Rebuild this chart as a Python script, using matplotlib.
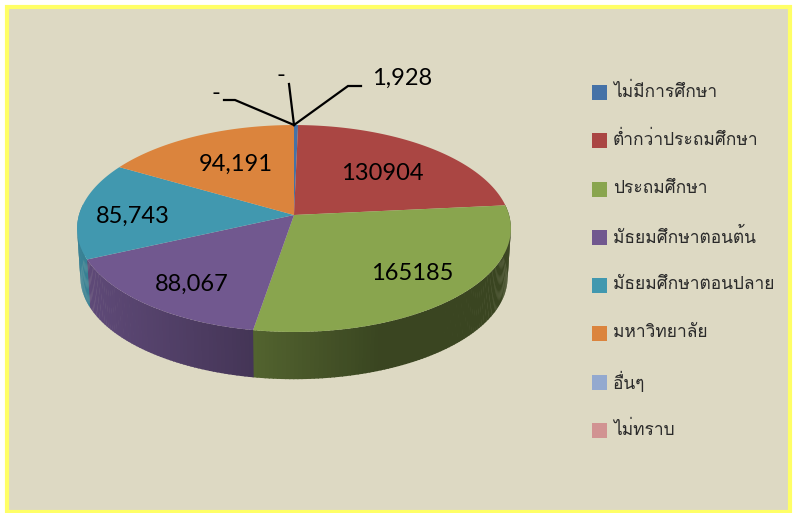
"""Thai education-level pie, drawn as a tilted disc with a shaded rim."""
import numpy as np
import matplotlib
matplotlib.use("Agg")
import matplotlib.pyplot as plt
from matplotlib.patches import Polygon, Rectangle

CATEGORIES = ["ไม่มีการศึกษา", "ต่ำกว่าประถมศึกษา", "ประถมศึกษา", "มัธยมศึกษาตอนต้น",
              "มัธยมศึกษาตอนปลาย", "มหาวิทยาลัย", "อื่นๆ", "ไม่ทราบ"]
VALUES = [1928, 130904, 165185, 88067, 85743, 94191, 0, 0]
VALUE_LABELS = ["1,928", "130904", "165185", "88,067", "85,743", "94,191", "-", "-"]
COLORS = ["#4572A7", "#AA4643", "#89A54E", "#71588F", "#4198AF", "#DB843D", "#93A9CF", "#D19392"]

THAI = ["Loma", "DejaVu Sans"]
NUM = ["Lato", "DejaVu Sans"]
BG, BORDER = "#DDD9C3", "#FFFF66"

# top face and bottom rim of the disc, in pixels of the figure
CX, CY, A, B, K = 294, 215, 215, 101.7, 0.1304
RIM_Y, RIM_S = 264, 0.985


def top(theta):
    d = 1 + K * np.cos(theta)
    return CX + A * np.sin(theta) / d, CY - B * np.cos(theta) / d


def low(theta):
    d = 1 + K * np.cos(theta)
    return CX + RIM_S * A * np.sin(theta) / d, RIM_Y - RIM_S * B * np.cos(theta) / d


def shade(color, x, lo, hi):
    # rim gets darker towards the lower right, flat after that
    f = np.clip((x - 80) / 300, 0, 1)
    return tuple(c * (hi + (lo - hi) * f) for c in matplotlib.colors.to_rgb(color))


fig = plt.figure(figsize=(7.94, 5.13), dpi=100)
fig.patch.set_facecolor("white")
ax = fig.add_axes([0, 0, 1, 1])
ax.set_xlim(0, 794)
ax.set_ylim(513, 0)
ax.axis("off")

ax.add_patch(Rectangle((6.5, 6.5), 783, 505, facecolor=BG, edgecolor=BORDER, lw=3))

fracs = np.array(VALUES) / sum(VALUES)
edges = np.concatenate([[0], np.cumsum(fracs)]) * 2 * np.pi

# rim first, only the part that faces the viewer
for i, color in enumerate(COLORS[:6]):
    t0, t1 = max(edges[i], np.pi / 2 - 0.1), min(edges[i + 1], 3 * np.pi / 2 + 0.1)
    if t1 <= t0:
        continue
    ts = np.linspace(t0, t1, max(int((t1 - t0) * 60), 2))
    for a, b in zip(ts[:-1], ts[1:]):
        seg = np.linspace(a, b + 0.005, 3)
        xt, yt = top(seg)
        xl, yl = low(seg)
        pts = np.column_stack([np.r_[xt, xl[::-1]], np.r_[yt, yl[::-1]]])
        ax.add_patch(Polygon(pts, facecolor=shade(color, xt.mean(), 0.42, 0.85),
                             edgecolor="none", zorder=2))

# top face
for i, color in enumerate(COLORS[:6]):
    ts = np.linspace(edges[i], edges[i + 1], 100)
    xs, ys = top(ts)
    pts = np.column_stack([np.r_[CX, xs], np.r_[CY, ys]])
    ax.add_patch(Polygon(pts, facecolor=color, edgecolor="none", zorder=3))

# leader lines
LEADERS = [[(294, 125), (348, 86), (361, 86)],
           [(294, 125), (289, 84)],
           [(294, 125), (235, 100), (224, 100)]]
for line in LEADERS:
    xs, ys = zip(*line)
    ax.plot(xs, ys, color="black", lw=1.6, zorder=4, solid_joinstyle="miter")

# value labels
LABEL_POS = [(402, 78), (382, 173), (412, 274), (192, 284), (133, 216), (236, 164), (281, 76), (216, 93)]
for text, (x, y) in zip(VALUE_LABELS, LABEL_POS):
    ax.text(x, y, text, family=NUM, fontsize=17, color="black", ha="center", va="center", zorder=5)

# legend
LEGEND_Y = [92, 140, 189, 237, 285, 333, 382, 430]
for name, color, y in zip(CATEGORIES, COLORS, LEGEND_Y):
    ax.add_patch(Rectangle((592, y - 7.5), 15, 15, facecolor=color, edgecolor="none", zorder=3))
    ax.text(613, y, name, family=THAI, fontsize=12.5, color="#2a2a2a", ha="left", va="center", zorder=5)

fig.savefig("out.png", dpi=100, facecolor=fig.get_facecolor())
